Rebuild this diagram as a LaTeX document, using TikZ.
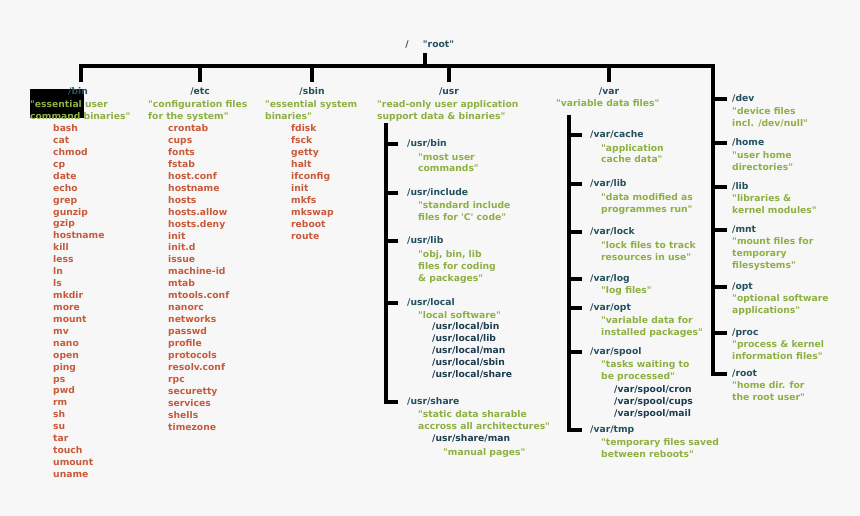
\documentclass[tikz,border=0pt]{standalone}
\usepackage{fontspec}
\newfontfamily\dvb{DejaVu Sans Bold}
\definecolor{bgc}{HTML}{F7F7F7}
\definecolor{headc}{HTML}{22505E}
\definecolor{descc}{HTML}{8DB043}
\definecolor{itemc}{HTML}{C85A3B}
\definecolor{subc}{HTML}{1D3C50}
\tikzset{
  lbl/.style={font=\dvb\fontsize{9.2}{11}\selectfont, inner sep=0pt, anchor=west, text height=6.8pt, text depth=1.8pt, yshift=-1pt},
  head/.style={lbl, text=headc},
  desc/.style={lbl, text=descc},
  item/.style={lbl, text=itemc},
  subd/.style={lbl, text=subc},
  tree/.style={line width=3.5pt, draw=black},
}
\begin{document}
\begin{tikzpicture}[x=1pt,y=-1pt]
\fill[bgc] (0,0) rectangle (860,516);
\useasboundingbox (0,0) rectangle (860,516);

% root
\node[head,anchor=center] (slash) at (407,44) {/};
\node[head,anchor=center] (root) at (438.5,44) {"root"};
\coordinate (barL) at (81,66);
\coordinate (barR) at (713,66);
\coordinate (rootx) at (425,66);
\coordinate (dropend) at (0,82);

% black patch
\fill[black] (30,89) rectangle (84,118);

% headings
\node[head,anchor=center] (bin) at (78,91) {/bin};
\node[head,anchor=center] (etc) at (200,91) {/etc};
\node[head,anchor=center] (sbin) at (312,91) {/sbin};
\node[head,anchor=center] (usr) at (449,91) {/usr};
\node[head,anchor=center] (var) at (609,91) {/var};

% /bin
\node[desc] (bind1) at (30,104) {"essential user};
\node[desc] (bind2) at (30,116) {command binaries"};
\foreach \t [count=\i from 0] in {bash,cat,chmod,cp,date,echo,grep,gunzip,gzip,hostname,kill,less,ln,ls,mkdir,more,mount,mv,nano,open,ping,ps,pwd,rm,sh,su,tar,touch,umount,uname}
  \node[item] (bini\i) at (53,{128+\i*11.93}) {\t};

% /etc
\node[desc] (etcd1) at (148,104) {"configuration files};
\node[desc] (etcd2) at (148,116) {for the system"};
\foreach \t [count=\i from 0] in {crontab,cups,fonts,fstab,host.conf,hostname,hosts,hosts.allow,hosts.deny,init,init.d,issue,machine-id,mtab,mtools.conf,nanorc,networks,passwd,profile,protocols,resolv.conf,rpc,securetty,services,shells,timezone}
  \node[item] (etci\i) at (168,{128+\i*11.95}) {\t};

% /sbin
\node[desc] (sbind1) at (265,104) {"essential system};
\node[desc] (sbind2) at (265,116) {binaries"};
\foreach \t [count=\i from 0] in {fdisk,fsck,getty,halt,ifconfig,init,mkfs,mkswap,reboot,route}
  \node[item] (sbini\i) at (291,{128+\i*11.98}) {\t};

% /usr
\node[desc] (usrd1) at (377,104) {"read-only user application};
\node[desc] (usrd2) at (377,116) {support data \& binaries"};
\node[head] (ubin) at (407,143) {/usr/bin};
\node[desc] (ubind1) at (418,157) {"most user};
\node[desc] (ubind2) at (418,168) {commands"};
\node[head] (uinc) at (407,192) {/usr/include};
\node[desc] (uincd1) at (418,205) {"standard include};
\node[desc] (uincd2) at (418,217) {files for 'C' code"};
\node[head] (ulib) at (407,240) {/usr/lib};
\node[desc] (ulibd1) at (418,254) {"obj, bin, lib};
\node[desc] (ulibd2) at (418,266) {files for coding};
\node[desc] (ulibd3) at (418,278) {\& packages"};
\node[head] (uloc) at (407,302) {/usr/local};
\node[desc] (ulocd1) at (418,315) {"local software"};
\foreach \t [count=\i from 0] in {bin,lib,man,sbin,share}
  \node[subd] (ulocs\i) at (432,{326+\i*11.9}) {/usr/local/\t};
\node[head] (ushare) at (407,401) {/usr/share};
\node[desc] (ushared1) at (418,414) {"static data sharable};
\node[desc] (ushared2) at (418,426) {accross all architectures"};
\node[subd] (usman) at (432,438) {/usr/share/man};
\node[desc] (usmand) at (443,452) {"manual pages"};

% /var
\node[desc] (vard1) at (556,103) {"variable data files"};
\node[head] (vcache) at (590,134) {/var/cache};
\node[desc] (vcached1) at (601,148) {"application};
\node[desc] (vcached2) at (601,159) {cache data"};
\node[head] (vlib) at (590,183) {/var/lib};
\node[desc] (vlibd1) at (601,197) {"data modified as};
\node[desc] (vlibd2) at (601,209) {programmes run"};
\node[head] (vlock) at (590,231) {/var/lock};
\node[desc] (vlockd1) at (601,245) {"lock files to track};
\node[desc] (vlockd2) at (601,257) {resources in use"};
\node[head] (vlog) at (590,278) {/var/log};
\node[desc] (vlogd1) at (601,290) {"log files"};
\node[head] (vopt) at (590,307) {/var/opt};
\node[desc] (voptd1) at (601,320) {"variable data for};
\node[desc] (voptd2) at (601,332) {installed packages"};
\node[head] (vspool) at (590,351) {/var/spool};
\node[desc] (vspoold1) at (601,364) {"tasks waiting to};
\node[desc] (vspoold2) at (601,376) {be processed"};
\foreach \t [count=\i from 0] in {cron,cups,mail}
  \node[subd] (vspools\i) at (614,{389+\i*11.8}) {/var/spool/\t};
\node[head] (vtmp) at (590,429) {/var/tmp};
\node[desc] (vtmpd1) at (601,442) {"temporary files saved};
\node[desc] (vtmpd2) at (601,454) {between reboots"};

% right column
\node[head] (dev) at (732,98) {/dev};
\node[desc] (devd1) at (732,111) {"device files};
\node[desc] (devd2) at (732,123) {incl. /dev/null"};
\node[head] (home) at (732,142) {/home};
\node[desc] (homed1) at (732,155) {"user home};
\node[desc] (homed2) at (732,167) {directories"};
\node[head] (lib) at (732,186) {/lib};
\node[desc] (libd1) at (732,198) {"libraries \&};
\node[desc] (libd2) at (732,210) {kernel modules"};
\node[head] (mnt) at (732,229) {/mnt};
\node[desc] (mntd1) at (732,241) {"mount files for};
\node[desc] (mntd2) at (732,253) {temporary};
\node[desc] (mntd3) at (732,265) {filesystems"};
\node[head] (opt) at (732,286) {/opt};
\node[desc] (optd1) at (732,298) {"optional software};
\node[desc] (optd2) at (732,310) {applications"};
\node[head] (proc) at (732,332) {/proc};
\node[desc] (procd1) at (732,344) {"process \& kernel};
\node[desc] (procd2) at (732,356) {information files"};
\node[head] (rootdir) at (732,373) {/root};
\node[desc] (rootdird1) at (732,385) {"home dir. for};
\node[desc] (rootdird2) at (732,397) {the root user"};

% tree connectors
\draw[tree] ([yshift=-4pt]root.south -| rootx) -- (rootx);
\draw[tree] (barL |- dropend) -- (barL) -- (barR) -- (barR |- rootdir.west) -- ([xshift=-5pt]rootdir.west);
\foreach \n in {etc,sbin,usr,var}
  \draw[tree] (\n |- barL) -- (\n |- dropend);
\foreach \n in {dev,home,lib,mnt,opt,proc}
  \draw[tree] (barR |- \n.west) -- ([xshift=-5pt]\n.west);

\coordinate (usrtop) at (386,123);
\draw[tree] (usrtop) -- (usrtop |- ushare.west) -- ([xshift=-9pt]ushare.west);
\foreach \n in {ubin,uinc,ulib,uloc}
  \draw[tree] (usrtop |- \n.west) -- ([xshift=-9pt]\n.west);

\coordinate (vartop) at (569,115);
\draw[tree] (vartop) -- (vartop |- vtmp.west) -- ([xshift=-8pt]vtmp.west);
\foreach \n in {vcache,vlib,vlock,vlog,vopt,vspool}
  \draw[tree] (vartop |- \n.west) -- ([xshift=-8pt]\n.west);
\end{tikzpicture}
\end{document}
